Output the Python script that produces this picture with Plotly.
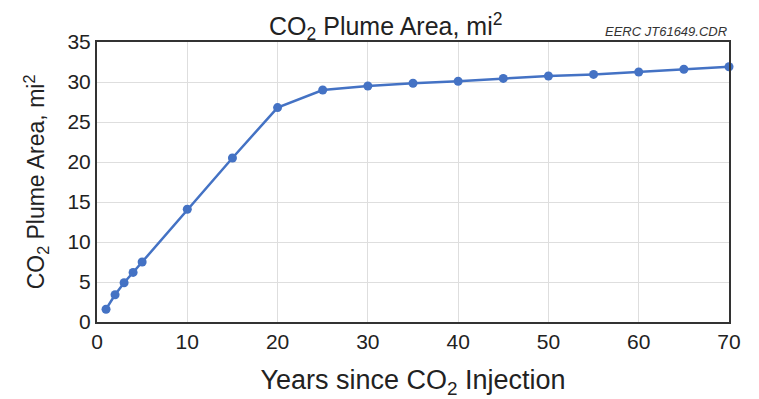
import plotly.graph_objects as go

years = [1, 2, 3, 4, 5, 10, 15, 20, 25, 30, 35, 40, 45, 50, 55, 60, 65, 70]
area = [1.6, 3.4, 4.9, 6.2, 7.5, 14.1, 20.5, 26.8, 29.0, 29.5, 29.85, 30.1, 30.45, 30.75, 30.95, 31.25, 31.6, 31.9]
x_ticks = [0, 10, 20, 30, 40, 50, 60, 70]
y_ticks = [0, 5, 10, 15, 20, 25, 30, 35]

FONT = "Liberation Sans, Arial, sans-serif"
TXT = "#222222"

fig = go.Figure()
fig.add_trace(go.Scatter(
    x=years, y=area, mode="lines+markers",
    line=dict(color="#4472C4", width=2.5),
    marker=dict(color="#4472C4", size=9),
    cliponaxis=False,
))

fig.update_layout(
    width=751, height=391,
    margin=dict(l=89, r=30, t=34, b=77),
    paper_bgcolor="white", plot_bgcolor="white",
    showlegend=False,
    font=dict(family=FONT, color=TXT),
    title=dict(text="CO<sub>2</sub> Plume Area, mi<sup>2</sup>", x=0.503, xanchor="center",
               y=0.953, yanchor="middle", font=dict(size=25, family=FONT, color=TXT)),
    xaxis=dict(range=[0, 70], tickvals=x_ticks, ticks="", showgrid=True, gridcolor="#DEDEDE",
               gridwidth=1, showline=True, linecolor="#333333", linewidth=2, mirror=True,
               zeroline=False, automargin=False,
               tickfont=dict(size=21, family=FONT, color=TXT),
               title=dict(text="Years since CO<sub>2</sub> Injection", standoff=20,
                          font=dict(size=27, family=FONT, color=TXT))),
    yaxis=dict(range=[0, 35], tickvals=y_ticks, ticks="", showgrid=True, gridcolor="#DEDEDE",
               gridwidth=1, showline=True, linecolor="#333333", linewidth=2, mirror=True,
               zeroline=False, automargin=False,
               tickfont=dict(size=21, family=FONT, color=TXT),
               title=dict(text="CO<sub>2</sub> Plume Area, mi<sup>2</sup>", standoff=16,
                          font=dict(size=23, family=FONT, color=TXT))),
    annotations=[dict(text="<i>EERC JT61649.CDR</i>", xref="paper", yref="paper",
                      x=1.0, y=1.0, xanchor="right", yanchor="bottom", yshift=1,
                      showarrow=False, font=dict(size=13, family=FONT, color="#333333"))],
)

fig.write_html("out.html")
